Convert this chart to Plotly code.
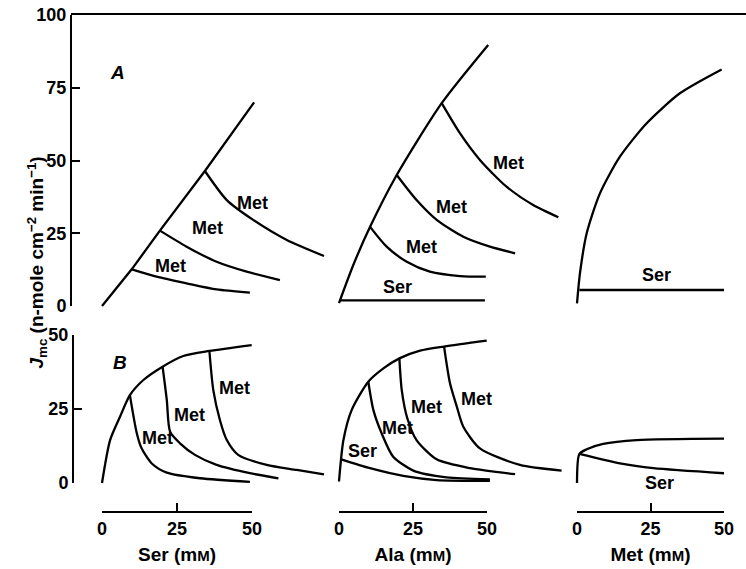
import plotly.graph_objects as go

# ---------------- data ----------------
# Panel A (top row), column Ser
A_SER_main_x = [0, 9.9, 19.3, 34.3, 50.7]
A_SER_main_y = [0, 12.6, 25.9, 46.4, 70.0]
A_SER_met1_x = [9.9, 18.2, 28.2, 38.2, 49.3]
A_SER_met1_y = [12.6, 10.1, 7.8, 5.7, 4.6]
A_SER_met2_x = [19.3, 28.2, 38.2, 48.2, 59.3]
A_SER_met2_y = [25.9, 20.4, 15.2, 11.8, 8.9]
A_SER_met3_x = [34.3, 41.6, 50.4, 61.6, 74.0]
A_SER_met3_y = [46.4, 36.4, 29.6, 22.7, 17.2]

# Panel A, column Ala
A_ALA_main_x = [0, 5.0, 10.5, 19.5, 34.7, 50.4]
A_ALA_main_y = [1.0, 14.5, 27.2, 45.0, 69.7, 89.7]
A_ALA_ser_x = [0.3, 49.3]
A_ALA_ser_y = [1.9, 1.9]
A_ALA_met1_x = [10.5, 16.1, 22.9, 30.7, 40.9, 49.6]
A_ALA_met1_y = [27.2, 20.4, 15.2, 11.8, 10.3, 10.1]
A_ALA_met2_x = [19.5, 26.2, 33.0, 42.0, 51.0, 59.5]
A_ALA_met2_y = [45.0, 36.4, 29.6, 23.8, 20.4, 18.1]
A_ALA_met3_x = [34.7, 40.9, 47.6, 56.6, 65.6, 74.1]
A_ALA_met3_y = [69.7, 59.3, 50.2, 41.0, 34.7, 30.5]

# Panel A, column Met
A_MET_main_x = [0, 1.0, 3.3, 7.8, 14.6, 23.7, 35.0, 49.2]
A_MET_main_y = [0.9, 11.2, 25.0, 38.7, 51.3, 62.8, 73.1, 81.3]
A_MET_ser_x = [0.8, 50.0]
A_MET_ser_y = [5.5, 5.5]

# Panel B (bottom row), column Ser
B_SER_main_x = [0, 2.7, 6.0, 9.3, 13.8, 20.2, 27.1, 35.8, 49.9]
B_SER_main_y = [0, 14.5, 22.4, 29.7, 34.8, 39.3, 42.9, 44.6, 46.6]
B_SER_met1_x = [9.3, 11.6, 13.2, 16.6, 21.6, 32.7, 49.3]
B_SER_met1_y = [29.7, 16.8, 11.7, 6.6, 3.5, 1.6, 0.4]
B_SER_met2_x = [20.2, 21.6, 22.7, 26.0, 31.0, 38.2, 49.3, 58.8]
B_SER_met2_y = [39.3, 28.0, 17.3, 13.4, 9.5, 6.1, 3.3, 1.6]
B_SER_met3_x = [35.8, 37.1, 39.3, 41.6, 45.4, 54.9, 64.9, 74.0]
B_SER_met3_y = [44.6, 31.4, 21.3, 14.5, 9.5, 6.1, 4.4, 2.9]

# Panel B, column Ala
B_ALA_main_x = [0, 1.5, 4.3, 9.9, 15.0, 20.4, 27.4, 35.5, 49.9]
B_ALA_main_y = [0.5, 14.5, 24.7, 34.2, 38.7, 42.1, 44.7, 46.1, 48.1]
B_ALA_ser_x = [0.8, 10.5, 21.7, 33.0, 51.0]
B_ALA_ser_y = [8.0, 5.0, 2.4, 1.0, 0.7]
B_ALA_met1_x = [9.9, 11.6, 14.4, 18.3, 25.1, 36.4, 51.0]
B_ALA_met1_y = [34.2, 24.7, 16.8, 8.9, 4.2, 1.9, 1.2]
B_ALA_met2_x = [20.4, 21.2, 23.1, 26.2, 33.0, 44.3, 59.5]
B_ALA_met2_y = [42.1, 31.4, 21.8, 14.5, 8.0, 5.0, 3.0]
B_ALA_met3_x = [35.5, 37.5, 39.8, 42.0, 47.6, 61.1, 75.2]
B_ALA_met3_y = [46.1, 33.7, 25.8, 19.0, 11.7, 6.1, 4.2]

# Panel B, column Met
B_MET_main_x = [0, 0.8, 3.3, 8.9, 20.3, 50.0]
B_MET_main_y = [0, 9.8, 11.4, 13.2, 14.5, 15.0]
B_MET_ser_x = [0.8, 14.6, 26.0, 50.0]
B_MET_ser_y = [9.8, 6.6, 5.0, 3.3]

# curve labels: (row, column, text, x, y)
CURVE_LABELS = [
    ("A", 0, "Met", 22.7, 13.7), ("A", 0, "Met", 35.0, 26.8), ("A", 0, "Met", 50.3, 35.4),
    ("A", 1, "Met", 27.9, 20.2), ("A", 1, "Met", 38.1, 33.9), ("A", 1, "Met", 57.2, 49.0),
    ("A", 1, "Ser", 19.8, 6.4), ("A", 2, "Ser", 26.9, 10.7),
    ("B", 0, "Met", 18.4, 15.1), ("B", 0, "Met", 29.1, 23.0), ("B", 0, "Met", 44.1, 32.0),
    ("B", 1, "Met", 19.7, 18.5), ("B", 1, "Met", 29.6, 25.6), ("B", 1, "Met", 46.5, 28.3),
    ("B", 1, "Ser", 8.0, 10.9), ("B", 2, "Ser", 28.2, 0.1),
]
PANEL_LETTERS = [("A", "A", 5.3, 80.4), ("B", "B", 6.0, 40.6)]

X_TICKS = [0, 25, 50]
A_Y_TICKS = [0, 25, 50, 75, 100]
B_Y_TICKS = [0, 25, 50]
X_TITLES = ["Ser (m<span style='font-size:15px'>M</span>)",
            "Ala (m<span style='font-size:15px'>M</span>)",
            "Met (m<span style='font-size:15px'>M</span>)"]
Y_TITLE = "<i>J</i><sub>mc</sub> (n-mole cm<sup>−2</sup> min<sup>−1</sup>)"

# ---------------- layout geometry (pixels of the 746 x 569 page) ----------------
W, H = 746, 569
COL_PX = [(102, 252), (339, 487), (577, 724)]      # pixel of x=0 and x=50
COL_RANGE = [(-3, 76), (-3, 77), (-3, 55)]
ROW_PX = {"A": (306, 15, 100), "B": (483, 335, 50)}  # pixel of y=0, y=top, top value
ROW_RANGE = {"A": (-2, 100), "B": (-2, 50)}
XAXIS_PX_Y = 511
YAXIS_PX_X = {"A": 72, "B": 74}
FONT = "Liberation Sans, Arial, Helvetica, sans-serif"
LW = 2.3


def xfrac(px):
    return px / W


def yfrac(py):
    return 1 - py / H


def col_domain(c, lo, hi):
    p0, p50 = COL_PX[c]
    s = (p50 - p0) / 50.0
    return [xfrac(p0 + lo * s), xfrac(p0 + hi * s)]


def row_domain(r, lo, hi):
    p0, ptop, vtop = ROW_PX[r]
    s = (p0 - ptop) / vtop
    return [yfrac(p0 - lo * s), yfrac(p0 - hi * s)]


fig = go.Figure()

XID = ["x", "x2", "x3"]
YID = {"A": "y", "B": "y2"}

series = [
    ("A", 0, A_SER_main_x, A_SER_main_y, "linear"),
    ("A", 0, A_SER_met1_x, A_SER_met1_y, "spline"),
    ("A", 0, A_SER_met2_x, A_SER_met2_y, "spline"),
    ("A", 0, A_SER_met3_x, A_SER_met3_y, "spline"),
    ("A", 1, A_ALA_main_x, A_ALA_main_y, "spline"),
    ("A", 1, A_ALA_ser_x, A_ALA_ser_y, "linear"),
    ("A", 1, A_ALA_met1_x, A_ALA_met1_y, "spline"),
    ("A", 1, A_ALA_met2_x, A_ALA_met2_y, "spline"),
    ("A", 1, A_ALA_met3_x, A_ALA_met3_y, "spline"),
    ("A", 2, A_MET_main_x, A_MET_main_y, "spline"),
    ("A", 2, A_MET_ser_x, A_MET_ser_y, "linear"),
    ("B", 0, B_SER_main_x, B_SER_main_y, "spline"),
    ("B", 0, B_SER_met1_x, B_SER_met1_y, "spline"),
    ("B", 0, B_SER_met2_x, B_SER_met2_y, "spline"),
    ("B", 0, B_SER_met3_x, B_SER_met3_y, "spline"),
    ("B", 1, B_ALA_main_x, B_ALA_main_y, "spline"),
    ("B", 1, B_ALA_ser_x, B_ALA_ser_y, "spline"),
    ("B", 1, B_ALA_met1_x, B_ALA_met1_y, "spline"),
    ("B", 1, B_ALA_met2_x, B_ALA_met2_y, "spline"),
    ("B", 1, B_ALA_met3_x, B_ALA_met3_y, "spline"),
    ("B", 2, B_MET_main_x, B_MET_main_y, "spline"),
    ("B", 2, B_MET_ser_x, B_MET_ser_y, "spline"),
]
for row, col, xs, ys, shape in series:
    fig.add_trace(go.Scatter(
        x=xs, y=ys, mode="lines", xaxis=XID[col], yaxis=YID[row],
        line=dict(color="black", width=LW, shape=shape, smoothing=0.7),
        showlegend=False, hoverinfo="skip"))

# empty traces so that every display-only axis pair forms a subplot
for xa, ya in [("x4", "y5"), ("x5", "y5"), ("x6", "y5"),
               ("x7", "y3"), ("x8", "y4"), ("x9", "y3")]:
    fig.add_trace(go.Scatter(x=[None], y=[None], mode="lines", xaxis=xa, yaxis=ya,
                             showlegend=False, hoverinfo="skip"))

hidden = dict(visible=False, showgrid=False, zeroline=False)
TICKFONT = dict(family=FONT, size=18, color="black", weight="bold")
TITLEFONT = dict(family=FONT, size=19, color="black", weight="bold")
layout = dict(
    template="none",
    width=W, height=H, margin=dict(l=0, r=0, t=0, b=0),
    paper_bgcolor="white", plot_bgcolor="rgba(0,0,0,0)",
    font=dict(family=FONT, size=18, color="black"),
    showlegend=False,
)
# data axes (invisible, same scale as display axes)
for c in range(3):
    key = "xaxis" if c == 0 else "xaxis%d" % (c + 1)
    lo, hi = COL_RANGE[c]
    layout[key] = dict(hidden, range=[lo, hi], domain=col_domain(c, lo, hi), anchor="y")
for r, key in [("A", "yaxis"), ("B", "yaxis2")]:
    lo, hi = ROW_RANGE[r]
    layout[key] = dict(hidden, range=[lo, hi], domain=row_domain(r, lo, hi), anchor="x")

axis_style = dict(showline=True, linecolor="black", linewidth=2, ticks="inside",
                  ticklen=8, tickwidth=2, tickcolor="black", showgrid=False,
                  zeroline=False, tickfont=TICKFONT)

# invisible helper axes that fix where the display axis lines sit
layout["yaxis5"] = dict(hidden, range=[0, 1], anchor="x4",
                        domain=[yfrac(XAXIS_PX_Y), yfrac(XAXIS_PX_Y - 10)])
layout["xaxis7"] = dict(hidden, range=[0, 1], anchor="y3",
                        domain=[xfrac(YAXIS_PX_X["A"]), xfrac(YAXIS_PX_X["A"] + 10)])
layout["xaxis8"] = dict(hidden, range=[0, 1], anchor="y4",
                        domain=[xfrac(YAXIS_PX_X["B"]), xfrac(YAXIS_PX_X["B"] + 10)])

# display x axes (0..50) at the bottom
for c in range(3):
    key = "xaxis%d" % (c + 4)
    layout[key] = dict(axis_style, range=[0, 50], domain=col_domain(c, 0, 50),
                       anchor="y5", side="bottom",
                       tickmode="array", tickvals=X_TICKS,
                       ticktext=[str(v) for v in X_TICKS],
                       title=dict(text=X_TITLES[c], standoff=10, font=TITLEFONT))
# top frame line along y = 100
layout["xaxis9"] = dict(showline=True, linecolor="black", linewidth=2, ticks="",
                        showticklabels=False, showgrid=False, zeroline=False,
                        range=[0, 1], domain=[xfrac(YAXIS_PX_X["A"]) - 0.0013, 1.0],
                        anchor="y3", side="top")
# display y axes
layout["yaxis3"] = dict(axis_style, range=[0, 100], domain=row_domain("A", 0, 100),
                        anchor="x7", side="left", tickmode="array",
                        tickvals=A_Y_TICKS, ticktext=[str(v) for v in A_Y_TICKS])
layout["yaxis4"] = dict(axis_style, range=[0, 50], domain=row_domain("B", 0, 50),
                        anchor="x8", side="left", tickmode="array",
                        tickvals=B_Y_TICKS, ticktext=[str(v) for v in B_Y_TICKS])

annotations = []
for row, col, txt, x, y in CURVE_LABELS:
    annotations.append(dict(text=txt, x=x, y=y, xref=XID[col], yref=YID[row],
                            showarrow=False, font=TICKFONT))
for row, txt, x, y in PANEL_LETTERS:
    annotations.append(dict(text="<i>%s</i>" % txt, x=x, y=y, xref="x", yref=YID[row],
                            showarrow=False,
                            font=dict(family=FONT, size=19, color="black", weight="bold")))
annotations.append(dict(text=Y_TITLE, x=xfrac(21), y=yfrac(263), xref="paper", yref="paper",
                        textangle=-90, showarrow=False,
                        font=dict(family=FONT, size=19, color="black", weight="bold")))
layout["annotations"] = annotations

fig.update_layout(**layout)
fig.write_html("out.html")
